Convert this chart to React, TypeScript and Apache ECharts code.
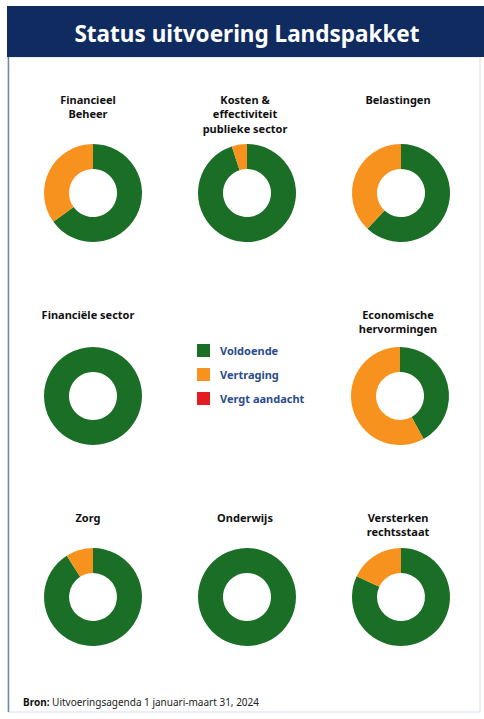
import React, { useEffect, useRef } from "react";
import * as echarts from "echarts";

const categories = [
  "Financieel\nBeheer",
  "Kosten &\neffectiviteit\npublieke sector",
  "Belastingen",
  "Financiële sector",
  "Economische\nhervormingen",
  "Zorg",
  "Onderwijs",
  "Versterken\nrechtsstaat",
];
const statusNames = ["Voldoende", "Vertraging", "Vergt aandacht"];
const voldoende = [65, 95, 62, 100, 42, 91, 100, 82];
const vertraging = [35, 5, 38, 0, 58, 9, 0, 18];
const vergtAandacht = [0, 0, 0, 0, 0, 0, 0, 0];
const titleText = "Status uitvoering Landspakket";
const sourceLabel = "Bron:";
const sourceText = " Uitvoeringsagenda 1 januari-maart 31, 2024";

// layout (pixels)
const cells = [
  { cx: 93, cy: 193, tx: 88, ty: 92 },
  { cx: 247, cy: 193, tx: 245, ty: 92 },
  { cx: 401, cy: 193, tx: 398, ty: 92 },
  { cx: 93, cy: 396, tx: 88, ty: 307 },
  { cx: 400, cy: 396, tx: 398, ty: 307 },
  { cx: 93, cy: 597, tx: 88, ty: 510 },
  { cx: 247, cy: 597, tx: 245, ty: 510 },
  { cx: 401, cy: 597, tx: 398, ty: 510 },
];

const COLORS = ["#1B6E25", "#F7921E", "#E31B23"];
const FONT = "'Noto Sans', 'Open Sans', sans-serif";

export default function App() {
  const ref = useRef<HTMLDivElement>(null);
  useEffect(() => {
    const chart = echarts.init(ref.current!, null, { renderer: "svg" });
    const series = categories.map((name, i) => ({
      type: "pie",
      name: name.replace(/\n/g, " "),
      center: [cells[i].cx, cells[i].cy],
      radius: [24, 49],
      startAngle: 90,
      clockwise: true,
      silent: true,
      label: { show: false },
      labelLine: { show: false },
      emphasis: { disabled: true },
      data: [
        { name: statusNames[0], value: voldoende[i] },
        { name: statusNames[1], value: vertraging[i] },
        { name: statusNames[2], value: vergtAandacht[i] },
      ],
    }));
    const titleEls = categories.map((name, i) => ({
      type: "text",
      x: cells[i].tx,
      y: cells[i].ty,
      style: {
        text: name,
        align: "center",
        verticalAlign: "top",
        fontFamily: FONT,
        fontSize: 11,
        fontWeight: "bold",
        lineHeight: 14.5,
        fill: "#111111",
      },
    }));
    chart.setOption({
      animation: false,
      backgroundColor: "#ffffff",
      color: COLORS,
      legend: {
        orient: "vertical",
        left: 192,
        top: 339,
        icon: "rect",
        itemWidth: 13,
        itemHeight: 13,
        itemGap: 11,
        selectedMode: false,
        data: statusNames,
        textStyle: {
          fontFamily: FONT,
          fontSize: 11,
          fontWeight: "bold",
          color: "#2B4C8C",
          padding: [0, 0, 0, 5],
        },
      },
      graphic: [
        {
          type: "rect",
          shape: { x: 8, y: 57, width: 472, height: 655 },
          style: { fill: "#ffffff", stroke: "#d5deea", lineWidth: 1 },
        },
        {
          type: "line",
          shape: { x1: 8.5, y1: 57, x2: 8.5, y2: 712 },
          style: { stroke: "#6f86ad", lineWidth: 1.5 },
        },
        {
          type: "rect",
          shape: { x: 7, y: 6, width: 477, height: 51 },
          style: { fill: "#0F2B5F" },
        },
        {
          type: "text",
          x: 247,
          y: 33,
          style: {
            text: titleText,
            align: "center",
            verticalAlign: "middle",
            fontFamily: FONT,
            fontSize: 22.5,
            fontWeight: "bold",
            fill: "#ffffff",
          },
        },
        ...titleEls,
        {
          type: "text",
          x: 23,
          y: 702,
          style: {
            text: `{b|${sourceLabel}}{n|${sourceText}}`,
            verticalAlign: "middle",
            rich: {
              b: { fontFamily: FONT, fontSize: 10, fontWeight: "bold", fill: "#111" },
              n: { fontFamily: FONT, fontSize: 10, fill: "#222" },
            },
          },
        },
      ],
      series,
    });
    return () => chart.dispose();
  }, []);
  return (
    <div
      ref={ref}
      style={{ position: "fixed", left: 0, top: 0, width: 484, height: 719 }}
    />
  );
}
